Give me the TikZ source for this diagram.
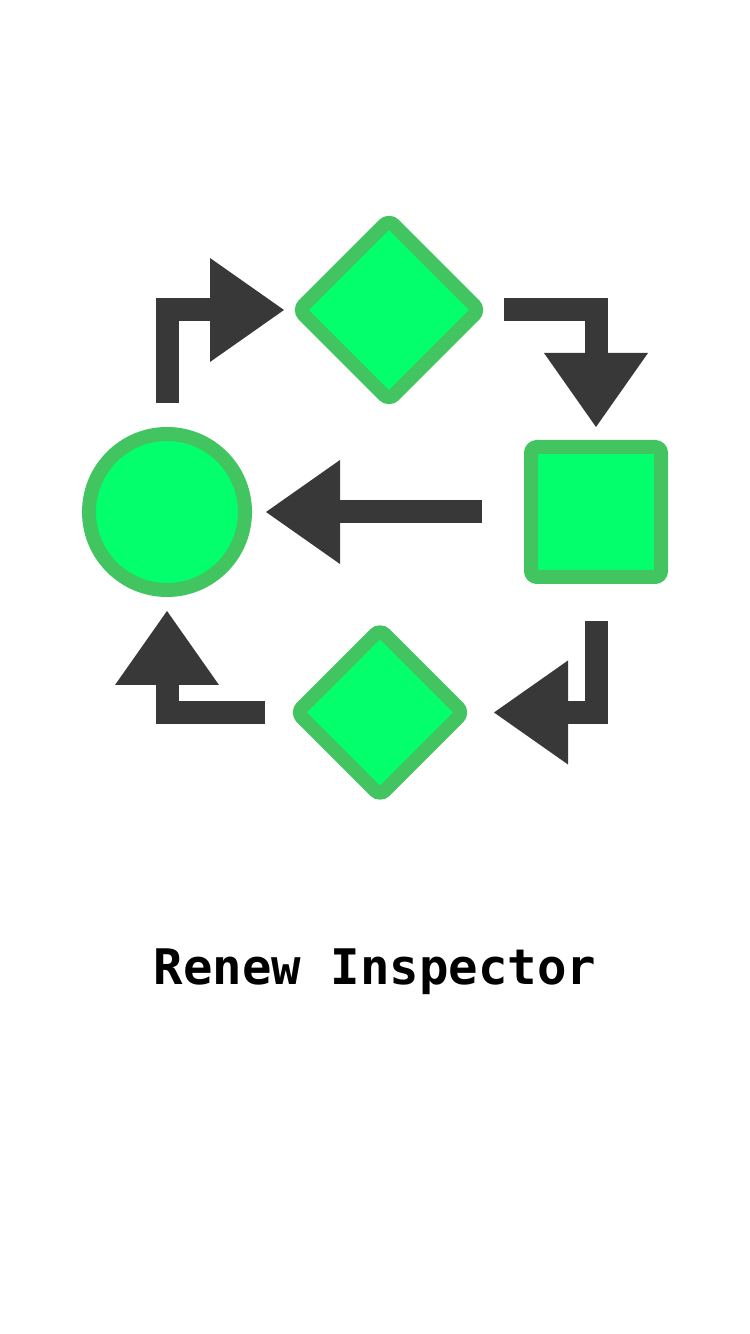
\documentclass[tikz,border=0pt]{standalone}
\usepackage{fontspec}
\newfontfamily\labelfont{DejaVu Sans Mono}
\usetikzlibrary{shapes.geometric,arrows.meta}
\definecolor{gfill}{HTML}{03FF6B}
\definecolor{gline}{HTML}{42C560}
\definecolor{dark}{HTML}{383838}
\tikzset{
  shp/.style={draw=gline, fill=gfill, inner sep=0pt, outer sep=0pt},
  dia/.style={shp, shape=diamond, line width=14pt, rounded corners=7pt},
  conn/.style={draw=dark, line width=23pt, line join=miter, line cap=butt,
    -{Triangle[length=74pt, width=104pt, line width=0pt]}},
}
\begin{document}
\begin{tikzpicture}[x=1pt,y=1pt]
\useasboundingbox (0,0) rectangle (750,1334);
\node[shp, circle, line width=14pt, minimum size=156pt] (c) at (167,822) {};
\node[dia, minimum width=180pt, minimum height=180pt] (d1) at (389,1024) {};
\node[shp, rectangle, line width=14pt, rounded corners=6pt, minimum size=130pt] (s) at (596,822) {};
\node[dia, minimum width=166pt, minimum height=166pt] (d2) at (380,621.5) {};
\node[anchor=base, font=\labelfont\bfseries\fontsize{49}{54}\selectfont] (t) at (375,349) {Renew Inspector};
\draw[conn, shorten <=31pt, shorten >=15pt] (c.north) |- (d1.west);
\draw[conn, shorten <=25pt, shorten >=20pt] (d1.east) -| (s.north);
\draw[conn, shorten <=49pt, shorten >=21pt] (s.west) -- (c.east);
\draw[conn, shorten <=44pt, shorten >=31pt] (s.south) |- (d2.east);
\draw[conn, shorten <=32pt, shorten >=21pt] (d2.west) -| (c.south);
\end{tikzpicture}
\end{document}
